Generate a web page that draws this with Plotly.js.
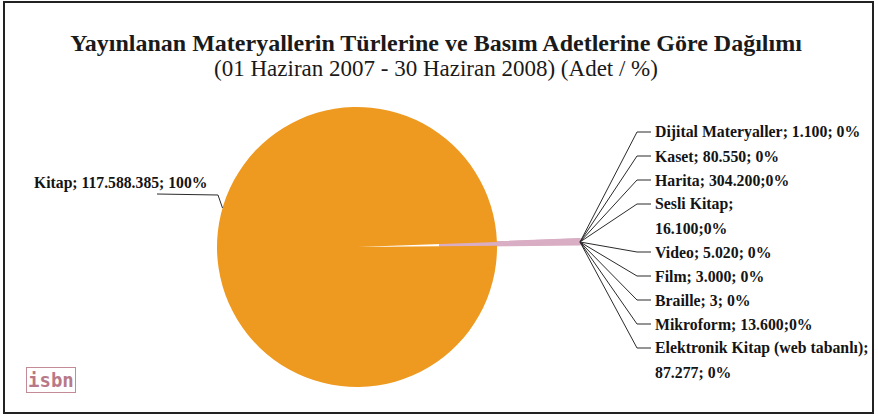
<!DOCTYPE html>
<html><head><meta charset="utf-8">
<script src="https://cdn.plot.ly/plotly-3.0.1.min.js"></script>
<style>
html,body{margin:0;padding:0;overflow:hidden;background:#fff;width:878px;height:417px}
#chart{width:878px;height:470px}
</style>
</head><body><div id="chart"></div>
<script>
// ---- data ----
const categories = ["Dijital Materyaller","Kaset","Harita","Sesli Kitap","Video","Film","Braille","Mikroform","Elektronik Kitap (web tabanlı)","Kitap"];
const counts = [1100, 80550, 304200, 16100, 5020, 3000, 3, 13600, 87277, 117588385];
const labelTexts = [
  ["Dijital Materyaller; 1.100; 0%"],
  ["Kaset; 80.550; 0%"],
  ["Harita; 304.200;0%"],
  ["Sesli Kitap;", "16.100;0%"],
  ["Video; 5.020; 0%"],
  ["Film; 3.000; 0%"],
  ["Braille; 3; 0%"],
  ["Mikroform; 13.600;0%"],
  ["Elektronik Kitap (web tabanlı);", "87.277; 0%"],
  ["Kitap; 117.588.385; 100%"]
];
const titleLine1 = "Yayınlanan Materyallerin Türlerine ve Basım Adetlerine Göre Dağılımı";
const titleLine2 = "(01 Haziran 2007 - 30 Haziran 2008) (Adet / %)";

// ---- layout helpers ----
const W = 878, H = 470;
const px = x => x / W;
const py = y => 1 - y / H;
const serif = "Liberation Serif, Times New Roman, serif";
const orange = "#EE991F", pink = "#D9AEC4";

const total = counts.reduce((a,b)=>a+b,0);
const smallSum = counts.slice(0,9).reduce((a,b)=>a+b,0);
const smallDeg = smallSum / total * 360;
const cx = 357, cy = 247, rPie = 140, reach = 223;
const pullVal = reach / rPie - 1;

const isBig = categories.map((c,i)=> i === 9);
const colors = isBig.map(b => b ? orange : pink);
const pulls = isBig.map(b => b ? 0 : pullVal);
const lineW = isBig.map(b => b ? 0 : 1.6);

const trace = {
  type: "pie",
  labels: categories,
  values: counts,
  sort: false,
  direction: "clockwise",
  rotation: 88.7 - smallDeg/2,
  pull: pulls,
  marker: {colors: colors, line: {width: lineW, color: colors}},
  textinfo: "none",
  hoverinfo: "label+value+percent",
  showlegend: false,
  domain: {x: [px(cx - reach), px(cx + reach)], y: [0, py(cy - reach)]}
};

// labels on the right
const annotations = [];
const shapes = [];
const tip = [580, 242];
let row = 0;
const rowY = k => 132 + 24 * k;
const labelFont = {family: serif, size: 15.8, color: "#141414"};
for (let i = 0; i < 9; i++) {
  const lines = labelTexts[i];
  const y0 = rowY(row);
  shapes.push({type: "path", xref: "paper", yref: "paper",
    path: `M${px(tip[0])},${py(tip[1])} L${px(637)},${py(y0)} L${px(651)},${py(y0)}`,
    line: {color: "#2a2a2a", width: 1}});
  lines.forEach((t, j) => {
    annotations.push({xref: "paper", yref: "paper", x: px(653), y: py(rowY(row)),
      xanchor: "left", yanchor: "middle", showarrow: false, text: "<b>" + t + "</b>",
      font: labelFont});
    row++;
  });
}
// Kitap label
annotations.push({xref: "paper", yref: "paper", x: px(32), y: py(183),
  xanchor: "left", yanchor: "middle", showarrow: false, text: "<b>" + labelTexts[9][0] + "</b>",
  font: {family: serif, size: 15.7, color: "#141414"}});
shapes.push({type: "path", xref: "paper", yref: "paper",
  path: `M${px(157)},${py(194)} L${px(218)},${py(195)} L${px(222.5)},${py(208)}`,
  line: {color: "#2a2a2a", width: 1}});

// logo
annotations.push({xref: "paper", yref: "paper", x: px(51), y: py(380),
  xanchor: "center", yanchor: "middle", showarrow: false, text: "<b>isbn</b>",
  font: {family: "DejaVu Sans Mono, monospace", size: 19, color: "#b87a88"},
  bordercolor: "#c58a98", borderwidth: 1, borderpad: 1, bgcolor: "rgba(255,255,255,0)"});

// frame
shapes.push({type: "rect", xref: "paper", yref: "paper",
  x0: px(4), x1: px(873), y0: py(413), y1: py(2),
  line: {color: "#222", width: 2}, fillcolor: "rgba(0,0,0,0)"});

const layout = {
  width: W, height: H,
  margin: {l: 0, r: 0, t: 0, b: 0},
  paper_bgcolor: "#ffffff",
  title: {
    text: '<span style="font-size:24px"><b>' + titleLine1 + '</b></span><br><span style="font-size:23px">' + titleLine2 + '</span>',
    font: {family: serif, size: 19.5, color: "#1a1a1a"},
    x: px(436), xanchor: "center", xref: "paper",
    y: 1 - 51 / H, yanchor: "top", yref: "container"
  },
  shapes: shapes,
  annotations: annotations
};

Plotly.newPlot("chart", [trace], layout, {displayModeBar: false, staticPlot: true});
</script>
</body></html>
